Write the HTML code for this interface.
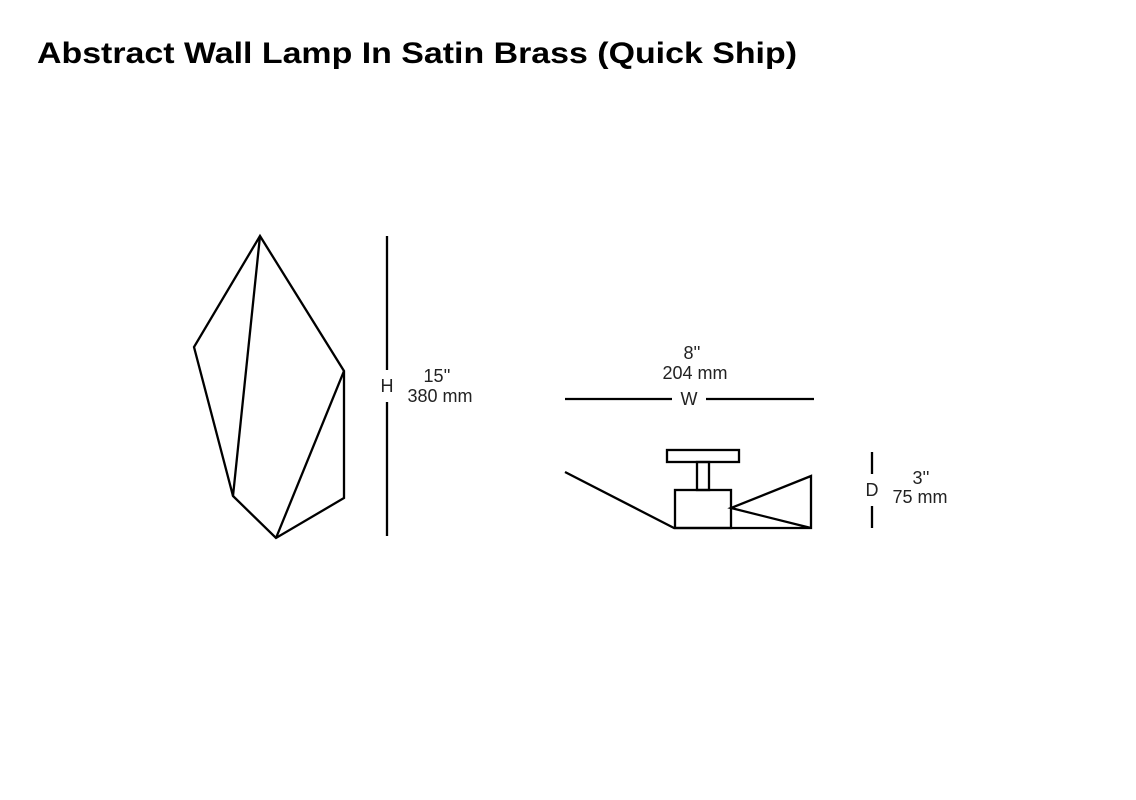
<!DOCTYPE html>
<html><head><style>html,body{margin:0;padding:0;background:#fff;}svg{display:block}</style></head>
<body>
<svg width="1136" height="800" viewBox="0 0 1136 800" xmlns="http://www.w3.org/2000/svg">
<rect width="1136" height="800" fill="#fff"/>
<text x="37" y="63" font-family="Liberation Sans, sans-serif" font-weight="bold" font-size="30" textLength="760" lengthAdjust="spacingAndGlyphs" fill="#000">Abstract Wall Lamp In Satin Brass (Quick Ship)</text>
<g fill="none" stroke="#000" stroke-width="2.3" stroke-linejoin="miter">
<polygon points="260,236 194,347 233,496 276,538 344,498 344,371"/>
<line x1="260" y1="236" x2="233" y2="496"/>
<line x1="344" y1="371" x2="276" y2="538"/>
<line x1="387" y1="236" x2="387" y2="370"/>
<line x1="387" y1="402" x2="387" y2="536"/>
<line x1="565" y1="399" x2="672" y2="399"/>
<line x1="706" y1="399" x2="814" y2="399"/>
<rect x="667" y="450" width="72" height="12"/>
<rect x="697" y="462" width="12" height="28"/>
<rect x="675" y="490" width="56" height="38"/>
<polyline points="565,472 674,528 811,528 811,476 731,508 811,528"/>
<line x1="872" y1="452" x2="872" y2="474"/>
<line x1="872" y1="506" x2="872" y2="528"/>
</g>
<g font-family="Liberation Sans, sans-serif" font-size="18" fill="#222" text-anchor="middle">
<text x="387" y="392">H</text>
<text x="437" y="382">15''</text>
<text x="440" y="402">380 mm</text>
<text x="689" y="405">W</text>
<text x="692" y="359">8''</text>
<text x="695" y="379">204 mm</text>
<text x="872" y="496">D</text>
<text x="921" y="484">3''</text>
<text x="920" y="503">75 mm</text>
</g>
</svg>
</body></html>
